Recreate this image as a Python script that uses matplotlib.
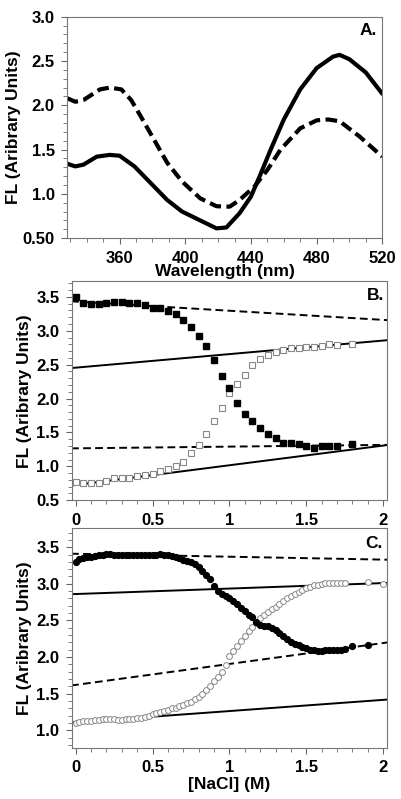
import matplotlib
matplotlib.use("Agg")
import matplotlib.pyplot as plt
from matplotlib.ticker import MultipleLocator, FixedLocator, FixedFormatter

plt.rcParams['font.family'] = 'Liberation Sans'
plt.rcParams['font.weight'] = 'bold'

# Panel A: spectra
wl_solid = [328, 333, 338, 346, 354, 360, 369, 379, 389, 398, 409, 419, 425, 433, 440, 446,
            452, 460, 470, 480, 490, 494, 500, 510, 520]
fl_solid = [1.34, 1.31, 1.33, 1.42, 1.44, 1.43, 1.31, 1.12, 0.93, 0.80, 0.70, 0.61, 0.62, 0.78,
            0.97, 1.23, 1.50, 1.84, 2.18, 2.42, 2.55, 2.57, 2.52, 2.37, 2.13]
wl_dash = [328, 333, 338, 348, 354, 361, 367, 373, 381, 389, 398, 409, 419, 427, 433, 442,
           450, 458, 470, 480, 487, 494, 506, 520]
fl_dash = [2.08, 2.04, 2.06, 2.18, 2.20, 2.18, 2.06, 1.87, 1.61, 1.35, 1.14, 0.95, 0.86, 0.855,
           0.93, 1.08, 1.27, 1.50, 1.74, 1.83, 1.84, 1.82, 1.65, 1.42]

# Panel B: squares
nacl_b = [0.0, 0.05, 0.1, 0.15, 0.2, 0.25, 0.3, 0.35, 0.4, 0.45, 0.5, 0.55, 0.6, 0.65, 0.7,
          0.75, 0.8, 0.85, 0.9, 0.95, 1.0, 1.05, 1.1, 1.15, 1.2, 1.25, 1.3, 1.35, 1.4, 1.45,
          1.5, 1.55, 1.6, 1.65, 1.7, 1.8]
fl_b_filled = [3.50, 3.41, 3.39, 3.39, 3.41, 3.43, 3.42, 3.41, 3.41, 3.38, 3.34, 3.33, 3.29,
               3.25, 3.16, 3.06, 2.92, 2.77, 2.57, 2.33, 2.15, 1.94, 1.77, 1.67, 1.57, 1.47,
               1.42, 1.35, 1.35, 1.33, 1.30, 1.27, 1.30, 1.30, 1.30, 1.33]
fl_b_open = [0.77, 0.75, 0.75, 0.75, 0.79, 0.82, 0.82, 0.83, 0.85, 0.87, 0.89, 0.93, 0.96,
             1.01, 1.07, 1.19, 1.32, 1.47, 1.67, 1.86, 2.08, 2.22, 2.35, 2.49, 2.58, 2.64,
             2.69, 2.72, 2.74, 2.75, 2.76, 2.76, 2.77, 2.80, 2.79, 2.81]
line_x = [-0.03, 2.03]
b_dash_hi = [3.434, 3.156]
b_solid_hi = [2.449, 2.861]
b_dash_lo = [1.264, 1.316]
b_solid_lo = [0.716, 1.314]

# Panel C: circles
nacl_c_filled = [0.0, 0.025, 0.05, 0.075, 0.1, 0.125, 0.15, 0.175, 0.2, 0.225, 0.25, 0.275,
                 0.3, 0.325, 0.35, 0.375, 0.4, 0.425, 0.45, 0.475, 0.5, 0.525, 0.55, 0.575,
                 0.6, 0.625, 0.65, 0.675, 0.7, 0.725, 0.75, 0.775, 0.8, 0.825, 0.85, 0.875,
                 0.9, 0.925, 0.95, 0.975, 1.0, 1.025, 1.05, 1.075, 1.1, 1.125, 1.15, 1.175,
                 1.2, 1.225, 1.25, 1.275, 1.3, 1.325, 1.35, 1.375, 1.4, 1.425, 1.45, 1.475,
                 1.5, 1.525, 1.55, 1.575, 1.6, 1.625, 1.65, 1.675, 1.7, 1.725, 1.75, 1.8, 1.9]
fl_c_filled = [3.30, 3.34, 3.35, 3.36, 3.37, 3.38, 3.39, 3.40, 3.41, 3.41, 3.40, 3.39, 3.40,
               3.40, 3.40, 3.40, 3.40, 3.40, 3.40, 3.39, 3.40, 3.40, 3.41, 3.40, 3.39, 3.38,
               3.37, 3.35, 3.33, 3.31, 3.30, 3.27, 3.23, 3.18, 3.12, 3.06, 2.97, 2.90, 2.86,
               2.83, 2.80, 2.76, 2.72, 2.67, 2.63, 2.58, 2.54, 2.48, 2.44, 2.43, 2.42, 2.40,
               2.37, 2.33, 2.29, 2.25, 2.21, 2.18, 2.16, 2.14, 2.12, 2.10, 2.09, 2.08, 2.08,
               2.09, 2.09, 2.09, 2.10, 2.10, 2.11, 2.15, 2.16]
nacl_c_open = [0.0, 0.025, 0.05, 0.075, 0.1, 0.125, 0.15, 0.175, 0.2, 0.225, 0.25, 0.275,
               0.3, 0.325, 0.35, 0.375, 0.4, 0.425, 0.45, 0.475, 0.5, 0.525, 0.55, 0.575,
               0.6, 0.625, 0.65, 0.675, 0.7, 0.725, 0.75, 0.775, 0.8, 0.825, 0.85, 0.875,
               0.9, 0.925, 0.95, 0.975, 1.0, 1.025, 1.05, 1.075, 1.1, 1.125, 1.15, 1.175,
               1.2, 1.225, 1.25, 1.275, 1.3, 1.325, 1.35, 1.375, 1.4, 1.425, 1.45, 1.475,
               1.5, 1.525, 1.55, 1.575, 1.6, 1.625, 1.65, 1.675, 1.7, 1.725, 1.75, 1.9, 2.0]
fl_c_open = [1.10, 1.11, 1.12, 1.12, 1.13, 1.14, 1.14, 1.15, 1.15, 1.15, 1.15, 1.14, 1.14,
             1.15, 1.15, 1.16, 1.17, 1.17, 1.18, 1.20, 1.22, 1.24, 1.25, 1.27, 1.28, 1.30,
             1.31, 1.33, 1.35, 1.37, 1.39, 1.43, 1.46, 1.50, 1.55, 1.60, 1.67, 1.73, 1.80,
             1.89, 2.02, 2.08, 2.15, 2.22, 2.29, 2.35, 2.41, 2.47, 2.53, 2.57, 2.61, 2.65,
             2.69, 2.73, 2.77, 2.80, 2.83, 2.86, 2.89, 2.92, 2.94, 2.96, 2.98, 2.99, 3.00,
             3.01, 3.01, 3.01, 3.01, 3.01, 3.01, 3.02, 3.00]
c_dash_hi = [3.411, 3.329]
c_solid_hi = [2.858, 3.012]
c_dash_lo = [1.611, 2.200]
c_solid_lo = [1.105, 1.420]

fig = plt.figure(figsize=(4.02, 7.99), dpi=100)
axA = fig.add_axes([0.167, 0.702, 0.784, 0.277])
axB = fig.add_axes([0.179, 0.374, 0.784, 0.274])
axC = fig.add_axes([0.179, 0.064, 0.784, 0.275])

lab = dict(fontsize=12.5, fontweight='bold')

def style(ax):
    for s in ax.spines.values():
        s.set_color('#777777')
        s.set_linewidth(0.8)
    ax.tick_params(which='both', direction='out', color='#666666', top=False, right=False)
    ax.tick_params(which='major', length=4, width=0.8, labelsize=12, pad=5)
    ax.tick_params(which='minor', length=3, width=0.6)
    for t in ax.get_xticklabels() + ax.get_yticklabels():
        t.set_fontweight('bold')

# A
axA.plot(wl_solid, fl_solid, color='k', lw=3.0, solid_capstyle='round')
axA.plot(wl_dash, fl_dash, color='k', lw=3.0, dashes=(2.8, 1.3))
axA.set_xlim(328, 520)
axA.set_ylim(0.5, 3.0)
axA.xaxis.set_major_locator(FixedLocator([360, 400, 440, 480, 520]))
axA.xaxis.set_minor_locator(MultipleLocator(10))
axA.yaxis.set_major_locator(FixedLocator([0.5, 1.0, 1.5, 2.0, 2.5, 3.0]))
axA.yaxis.set_major_formatter(FixedFormatter(['0.50', '1.0', '1.5', '2.0', '2.5', '3.0']))
axA.yaxis.set_minor_locator(MultipleLocator(0.1))
axA.set_xlabel('Wavelength (nm)', labelpad=-1, **lab)
axA.set_ylabel('FL (Aribrary Units)', labelpad=1, **lab)
axA.text(0.984, 0.94, 'A.', transform=axA.transAxes, ha='right', va='center', **lab)
style(axA)

# B
axB.plot(line_x, b_dash_hi, color='k', lw=1.4, dashes=(4, 2.2))
axB.plot(line_x, b_solid_hi, color='k', lw=1.4)
axB.plot(line_x, b_dash_lo, color='k', lw=1.4, dashes=(4, 2.2))
axB.plot(line_x, b_solid_lo, color='k', lw=1.4)
axB.plot(nacl_b, fl_b_open, 's', ms=4.8, mfc='white', mec='#888888', mew=0.8, ls='none')
axB.plot(nacl_b, fl_b_filled, 's', ms=4.8, mfc='k', mec='k', ls='none')
axB.set_xlim(-0.024, 2.026)
axB.set_ylim(0.5, 3.73)
axB.xaxis.set_major_locator(FixedLocator([0, 0.5, 1, 1.5, 2]))
axB.xaxis.set_major_formatter(FixedFormatter(['0', '0.5', '1', '1.5', '2']))
axB.xaxis.set_minor_locator(MultipleLocator(0.1))
axB.yaxis.set_major_locator(MultipleLocator(0.5))
axB.yaxis.set_minor_locator(MultipleLocator(0.1))
axB.set_ylabel('FL (Aribrary Units)', labelpad=3, **lab)
axB.text(0.99, 0.936, 'B.', transform=axB.transAxes, ha='right', va='center', **lab)
style(axB)

# C
axC.plot(line_x, c_dash_hi, color='k', lw=1.4, dashes=(4, 2.2))
axC.plot(line_x, c_solid_hi, color='k', lw=1.4)
axC.plot(line_x, c_dash_lo, color='k', lw=1.4, dashes=(4, 2.2))
axC.plot(line_x, c_solid_lo, color='k', lw=1.4)
axC.plot(nacl_c_open, fl_c_open, 'o', ms=4.2, mfc='white', mec='#888888', mew=0.7, ls='none')
axC.plot(nacl_c_filled, fl_c_filled, 'o', ms=4.2, mfc='k', mec='k', ls='none')
axC.set_xlim(-0.024, 2.026)
axC.set_ylim(0.76, 3.76)
axC.xaxis.set_major_locator(FixedLocator([0, 0.5, 1, 1.5, 2]))
axC.xaxis.set_major_formatter(FixedFormatter(['0', '0.5', '1', '1.5', '2']))
axC.xaxis.set_minor_locator(MultipleLocator(0.1))
axC.yaxis.set_major_locator(FixedLocator([1.0, 1.5, 2.0, 2.5, 3.0, 3.5]))
axC.yaxis.set_major_formatter(FixedFormatter(['1.0', '1.5', '2.0', '2.5', '3.0', '3.5']))
axC.yaxis.set_minor_locator(MultipleLocator(0.1))
axC.set_xlabel('[NaCl] (M)', labelpad=1, **lab)
axC.set_ylabel('FL (Aribrary Units)', labelpad=3, **lab)
axC.text(0.985, 0.93, 'C.', transform=axC.transAxes, ha='right', va='center', **lab)
style(axC)

fig.savefig('out.png', dpi=100)
